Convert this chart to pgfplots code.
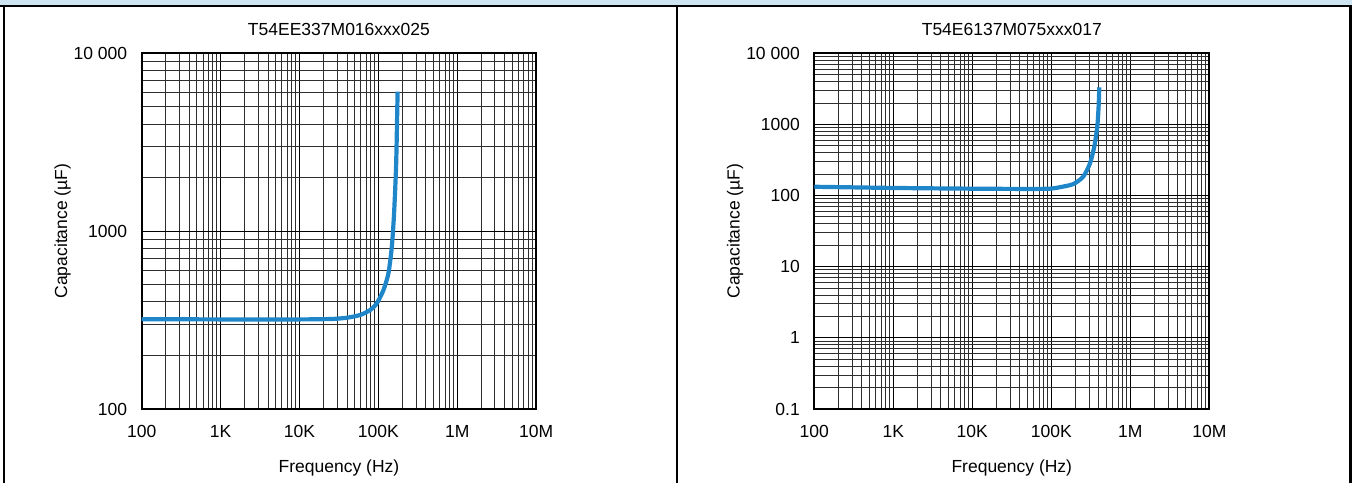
\documentclass[border=0pt]{standalone}
\usepackage{fontspec}
\setmainfont{Liberation Sans}
\usepackage{pgfplots}
\pgfplotsset{compat=1.18}
\definecolor{curveblue}{RGB}{31,134,201}
\definecolor{bandblue}{RGB}{205,228,242}
\begin{document}
\begin{tikzpicture}
\useasboundingbox (0pt,0pt) rectangle (1352pt,483pt);
\fill[bandblue] (0pt,477pt) rectangle (1352pt,483pt);
\draw[black, line width=2pt] (0pt,477pt) -- (1352pt,477pt);
\draw[black, line width=2pt] (4pt,477pt) -- (4pt,0pt);
\draw[black, line width=2.5pt] (1350.7pt,477pt) -- (1350.7pt,0pt);
\draw[black, line width=2pt] (676.7pt,477pt) -- (676.7pt,0pt);

\begin{axis}[
  at={(141.7pt,74pt)}, anchor=south west,
  scale only axis,
  width=394.5pt, height=355.7pt,
  xmode=log, ymode=log,
  xmin=100, xmax=10000000,
  xtick={100,1000,10000,100000,1000000,10000000},
  xticklabels={100,1K,10K,100K,1M,10M},
  minor xtick={200,300,400,500,600,700,800,900,2000,3000,4000,5000,6000,7000,8000,9000,20000,30000,40000,50000,60000,70000,80000,90000,200000,300000,400000,500000,600000,700000,800000,900000,2000000,3000000,4000000,5000000,6000000,7000000,8000000,9000000},
  ymin=100, ymax=10000,
  ytick={100,1000,10000},
  yticklabels={100,1000,10 000},
  minor ytick={200,300,400,500,600,700,800,900,2000,3000,4000,5000,6000,7000,8000,9000},
  grid=both,
  major grid style={black, line width=1.2pt},
  minor grid style={black!82, line width=1pt},
  major tick length=0pt, minor tick length=0pt,
  axis line style={black, line width=2.2pt},
  tick label style={font=\fontsize{17.5}{20}\selectfont},
  xticklabel style={anchor=center, yshift=-22pt},
  yticklabel style={anchor=east, xshift=-11pt},
  label style={font=\fontsize{17.5}{20}\selectfont},
  title style={font=\fontsize{17.5}{20}\selectfont, at={(axis description cs:0.5,1.049)}, anchor=center},
  xlabel style={at={(axis description cs:0.5,-0.166)}, anchor=center},
  ylabel style={at={(axis description cs:-0.2004,0.5)}, anchor=center},
  xlabel={Frequency (Hz)},
  ylabel={Capacitance (µF)},
  title={T54EE337M016xxx025},
]
\addplot[curveblue, line width=4.2pt, smooth, tension=0.4] coordinates {
(100,320) (1000,319) (10000,319) (20000,320) (27000,321) (40000,326) (59000,338) (78500,360) (95600,393) (116000,467) (134000,579) (148000,818) (158000,1260) (168000,2406) (175000,6085)
};
\end{axis}

\begin{axis}[
  at={(814.3pt,74pt)}, anchor=south west,
  scale only axis,
  width=395pt, height=355.7pt,
  xmode=log, ymode=log,
  xmin=100, xmax=10000000,
  xtick={100,1000,10000,100000,1000000,10000000},
  xticklabels={100,1K,10K,100K,1M,10M},
  minor xtick={200,300,400,500,600,700,800,900,2000,3000,4000,5000,6000,7000,8000,9000,20000,30000,40000,50000,60000,70000,80000,90000,200000,300000,400000,500000,600000,700000,800000,900000,2000000,3000000,4000000,5000000,6000000,7000000,8000000,9000000},
  ymin=0.1, ymax=10000,
  ytick={0.1,1,10,100,1000,10000},
  yticklabels={0.1,1,10,100,1000,10 000},
  minor ytick={0.2,0.3,0.4,0.5,0.6,0.7,0.8,0.9,2,3,4,5,6,7,8,9,20,30,40,50,60,70,80,90,200,300,400,500,600,700,800,900,2000,3000,4000,5000,6000,7000,8000,9000},
  grid=both,
  major grid style={black, line width=1.2pt},
  minor grid style={black!82, line width=1pt},
  major tick length=0pt, minor tick length=0pt,
  axis line style={black, line width=2.2pt},
  tick label style={font=\fontsize{17.5}{20}\selectfont},
  xticklabel style={anchor=center, yshift=-22pt},
  yticklabel style={anchor=east, xshift=-11pt},
  label style={font=\fontsize{17.5}{20}\selectfont},
  title style={font=\fontsize{17.5}{20}\selectfont, at={(axis description cs:0.5,1.049)}, anchor=center},
  xlabel style={at={(axis description cs:0.5,-0.166)}, anchor=center},
  ylabel style={at={(axis description cs:-0.2004,0.5)}, anchor=center},
  xlabel={Frequency (Hz)},
  ylabel={Capacitance (µF)},
  title={T54E6137M075xxx017},
]
\addplot[curveblue, line width=4.2pt, smooth, tension=0.4] coordinates {
(100,133) (1000,128) (10300,125) (50000,124) (96000,125) (128000,131) (190000,145) (254000,185) (309000,284) (350000,488) (382000,930) (397000,1778) (405000,3326)
};
\end{axis}
\end{tikzpicture}
\end{document}
